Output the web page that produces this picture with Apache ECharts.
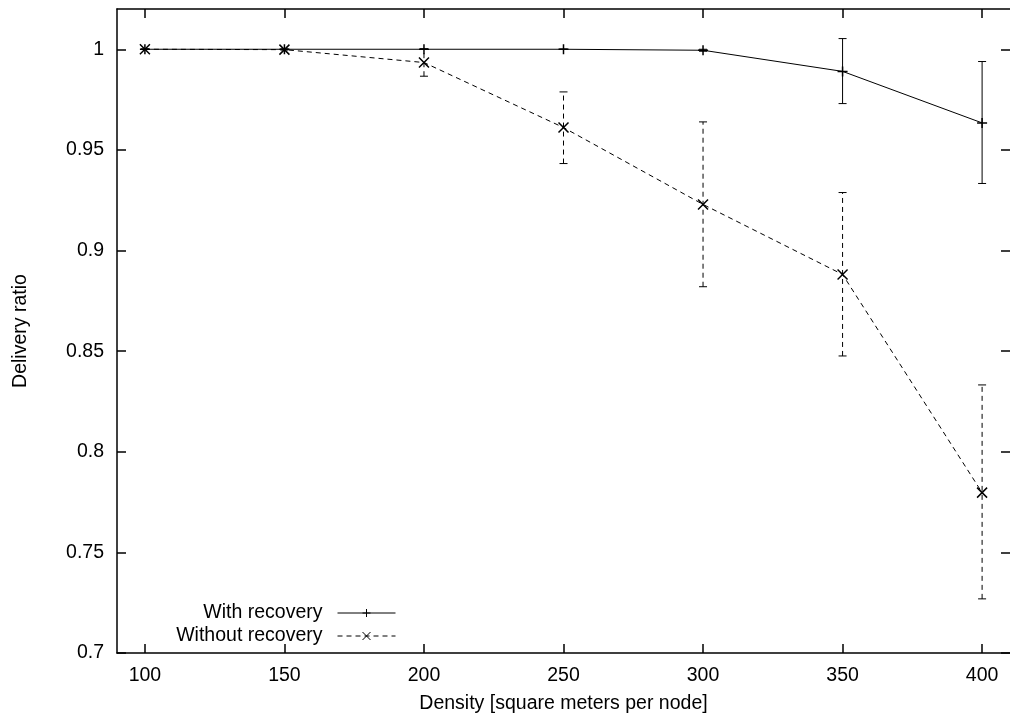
<!DOCTYPE html>
<html>
<head>
<meta charset="utf-8">
<script src="https://cdn.jsdelivr.net/npm/echarts@6/dist/echarts.min.js"></script>
<style>
html,body{margin:0;padding:0;background:#fff;}
#chart{width:1010px;height:719px;}
</style>
</head>
<body>
<div id="chart"></div>
<script>
// Data
var densities = [100, 150, 200, 250, 300, 350, 400];
var xTickValues = [100, 150, 200, 250, 300, 350, 400];
var yTickValues = [0.7, 0.75, 0.8, 0.85, 0.9, 0.95, 1];

var withRecovery     = [1, 1, 1, 1, 0.9995, 0.989, 0.9634];
var withRecoveryLow  = [1, 1, 1, 1, 0.9990, 0.973, 0.9333];
var withRecoveryHigh = [1, 1, 1, 1, 1.0000, 1.0053, 0.9939];

var withoutRecovery     = [1, 0.9998, 0.9934, 0.9611, 0.9229, 0.8881, 0.7797];
var withoutRecoveryLow  = [1, 0.9996, 0.9866, 0.9432, 0.8820, 0.8476, 0.7269];
var withoutRecoveryHigh = [1, 1.0000, 1.0002, 0.9788, 0.9639, 0.9288, 0.8332];

var FONT = 'Liberation Sans';
var FS = 19.5;

function pairs(xs, ys) { return xs.map(function (x, i) { return [x, ys[i]]; }); }
function bars(xs, lo, hi) { return xs.map(function (x, i) { return [x, lo[i], hi[i]]; }); }

function errRender(dashed) {
  return function (params, api) {
    var x = api.value(0);
    var p1 = api.coord([x, api.value(1)]);
    var p2 = api.coord([x, api.value(2)]);
    var w = 4;
    var style = { stroke: '#000', lineWidth: 1, lineDash: dashed ? [5, 4] : null };
    return {
      type: 'group',
      children: [
        { type: 'line', shape: { x1: p1[0], y1: p1[1], x2: p2[0], y2: p2[1] }, style: style },
        { type: 'line', shape: { x1: p1[0] - w, y1: p1[1], x2: p1[0] + w, y2: p1[1] }, style: { stroke: '#000', lineWidth: 1 } },
        { type: 'line', shape: { x1: p2[0] - w, y1: p2[1], x2: p2[0] + w, y2: p2[1] }, style: { stroke: '#000', lineWidth: 1 } }
      ]
    };
  };
}

var plusSym = 'path://M0,5L10,5M5,0L5,10';
var crossSym = 'path://M0,0L10,10M10,0L0,10';

var axisLineStyle = { color: '#000', width: 1.5 };

var legendCommon = {
  orient: 'vertical',
  align: 'right',
  right: 609,
  itemWidth: 58,
  itemHeight: 10,
  textStyle: { fontFamily: FONT, fontSize: FS, color: '#000', padding: [0, 10, 0, 0] },
  selectedMode: false
};

var chart = echarts.init(document.getElementById('chart'), null, { renderer: 'canvas' });
chart.setOption({
  animation: false,
  backgroundColor: '#fff',
  grid: { left: 117, top: 9, width: 895, bottom: 66, containLabel: false },
  legend: [
    Object.assign({}, legendCommon, { top: 598, data: [{ name: 'With recovery', itemStyle: { borderWidth: 1 }, lineStyle: { width: 1 } }] }),
    Object.assign({}, legendCommon, { top: 621, data: [{ name: 'Without recovery', itemStyle: { borderWidth: 1 }, lineStyle: { width: 1 } }] })
  ],
  xAxis: [{
    type: 'value', min: 90, max: 410, position: 'bottom',
    name: 'Density [square meters per node]', nameLocation: 'middle', nameGap: 41,
    nameTextStyle: { fontFamily: FONT, fontSize: FS, color: '#000' },
    axisLine: { show: true, lineStyle: axisLineStyle },
    axisTick: { show: true, inside: true, length: 9, lineStyle: axisLineStyle, customValues: xTickValues },
    axisLabel: { show: true, margin: 13, fontFamily: FONT, fontSize: FS, color: '#000', customValues: xTickValues },
    splitLine: { show: false }
  }, {
    type: 'value', min: 90, max: 410, position: 'top',
    axisLine: { show: true, lineStyle: axisLineStyle },
    axisTick: { show: true, inside: true, length: 9, lineStyle: axisLineStyle, customValues: xTickValues },
    axisLabel: { show: false },
    splitLine: { show: false }
  }],
  yAxis: [{
    type: 'value', min: 0.7, max: 1.02, position: 'left',
    name: 'Delivery ratio', nameLocation: 'middle', nameGap: 86, nameRotate: 90,
    nameTextStyle: { fontFamily: FONT, fontSize: FS, color: '#000' },
    axisLine: { show: true, lineStyle: axisLineStyle },
    axisTick: { show: true, inside: true, length: 9, lineStyle: axisLineStyle, customValues: yTickValues },
    axisLabel: { show: true, margin: 13, fontFamily: FONT, fontSize: FS, color: '#000', customValues: yTickValues },
    splitLine: { show: false }
  }, {
    type: 'value', min: 0.7, max: 1.02, position: 'right',
    axisLine: { show: false, lineStyle: axisLineStyle },
    axisTick: { show: true, inside: true, length: 9, lineStyle: axisLineStyle, customValues: yTickValues },
    axisLabel: { show: false },
    splitLine: { show: false }
  }],
  series: [
    {
      name: 'With recovery', type: 'line', xAxisIndex: 0, yAxisIndex: 0,
      data: pairs(densities, withRecovery),
      symbol: plusSym, symbolSize: 10, showSymbol: true,
      lineStyle: { color: '#000', width: 1, type: 'solid' },
      itemStyle: { color: '#000', borderColor: '#000', borderWidth: 1.5 },
      z: 3
    },
    {
      name: 'Without recovery', type: 'line', xAxisIndex: 0, yAxisIndex: 0,
      data: pairs(densities, withoutRecovery),
      symbol: crossSym, symbolSize: 10, showSymbol: true,
      lineStyle: { color: '#000', width: 1, type: [5, 4] },
      itemStyle: { color: '#000', borderColor: '#000', borderWidth: 1.5 },
      z: 3
    },
    {
      name: 'errWith', type: 'custom', xAxisIndex: 0, yAxisIndex: 0,
      data: bars(densities, withRecoveryLow, withRecoveryHigh),
      encode: { x: 0, y: [1, 2] },
      renderItem: errRender(false), z: 2
    },
    {
      name: 'errWithout', type: 'custom', xAxisIndex: 0, yAxisIndex: 0,
      data: bars(densities, withoutRecoveryLow, withoutRecoveryHigh),
      encode: { x: 0, y: [1, 2] },
      renderItem: errRender(true), z: 2
    }
  ]
});
</script>
</body>
</html>
